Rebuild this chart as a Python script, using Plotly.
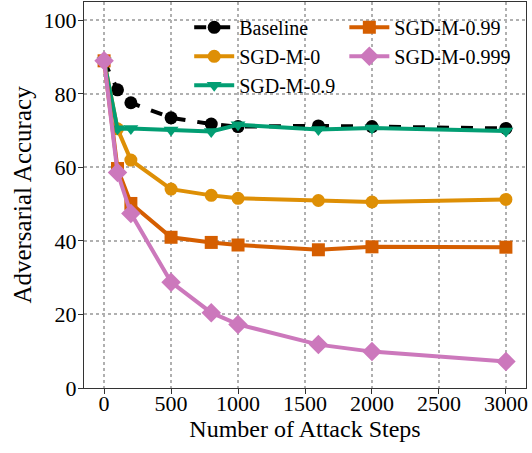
import plotly.graph_objects as go

steps = [0, 100, 200, 500, 800, 1000, 1600, 2000, 3000]
baseline = [89.0, 81.1, 77.6, 73.5, 71.8, 71.1, 71.3, 71.1, 70.6]
sgd_m_0 = [89.0, 70.5, 62.0, 54.1, 52.4, 51.6, 51.0, 50.6, 51.3]
sgd_m_09 = [89.0, 70.5, 70.6, 70.2, 69.8, 71.6, 70.3, 70.7, 69.9]
sgd_m_099 = [89.0, 59.7, 50.2, 41.0, 39.6, 38.9, 37.6, 38.4, 38.3]
sgd_m_0999 = [89.0, 58.6, 47.5, 28.8, 20.5, 17.3, 11.8, 9.9, 7.2]

FONT = "Liberation Serif"

series = [
    ("Baseline", baseline, "#000000", "circle", "dash", "legend", 1),
    ("SGD-M-0", sgd_m_0, "#DE8F05", "circle", "solid", "legend", 2),
    ("SGD-M-0.9", sgd_m_09, "#029E73", "triangle-down", "solid", "legend", 3),
    ("SGD-M-0.99", sgd_m_099, "#D55E00", "square", "solid", "legend2", 1),
    ("SGD-M-0.999", sgd_m_0999, "#CC78BC", "diamond", "solid", "legend2", 2),
]

fig = go.Figure()
for name, ys, color, sym, dash, leg, rank in series:
    fig.add_trace(go.Scatter(
        x=steps, y=ys, name=name, mode="lines+markers",
        line=dict(color=color, width=4, dash=dash),
        marker=dict(symbol=sym, size=13 if sym != "diamond" else 15, color=color,
                    line=dict(width=0)),
        legend=leg, legendrank=rank,
    ))

legend_common = dict(
    bgcolor="rgba(0,0,0,0)", borderwidth=0,
    font=dict(family=FONT, size=20, color="#000000"),
    xanchor="left", yanchor="top", tracegroupgap=0,
    itemwidth=40,
)

axis_common = dict(
    showgrid=True, gridcolor="#b0b0b0", griddash="dot", gridwidth=2,
    showline=True, linecolor="#333333", linewidth=1, mirror=True,
    ticks="outside", ticklen=5, tickcolor="#333333",
    tickfont=dict(family=FONT, size=22, color="#000000"), zeroline=False,
    automargin=False,
)

fig.update_layout(
    width=532, height=453,
    margin=dict(l=84, r=6, t=2, b=65),
    paper_bgcolor="white", plot_bgcolor="white",
    font=dict(family=FONT, size=22, color="#000000"),
    legend=dict(x=0.238, y=0.985, **legend_common),
    legend2=dict(x=0.589, y=0.985, **legend_common),
    xaxis=dict(
        range=[-150, 3150],
        tickvals=[0, 500, 1000, 1500, 2000, 2500, 3000],
        title=dict(text="Number of Attack Steps", font=dict(family=FONT, size=24), standoff=0),
        ticklabelstandoff=-9,
        **axis_common,
    ),
    yaxis=dict(
        range=[0, 105],
        tickvals=[0, 20, 40, 60, 80, 100],
        title=dict(text="Adversarial Accuracy", font=dict(family=FONT, size=25), standoff=4),
        ticklabelstandoff=-3,
        **axis_common,
    ),
)

fig.write_html(
    "out.html",
    config={"displayModeBar": False},
    post_script="document.body.style.margin='0';document.body.style.overflow='hidden';",
)
